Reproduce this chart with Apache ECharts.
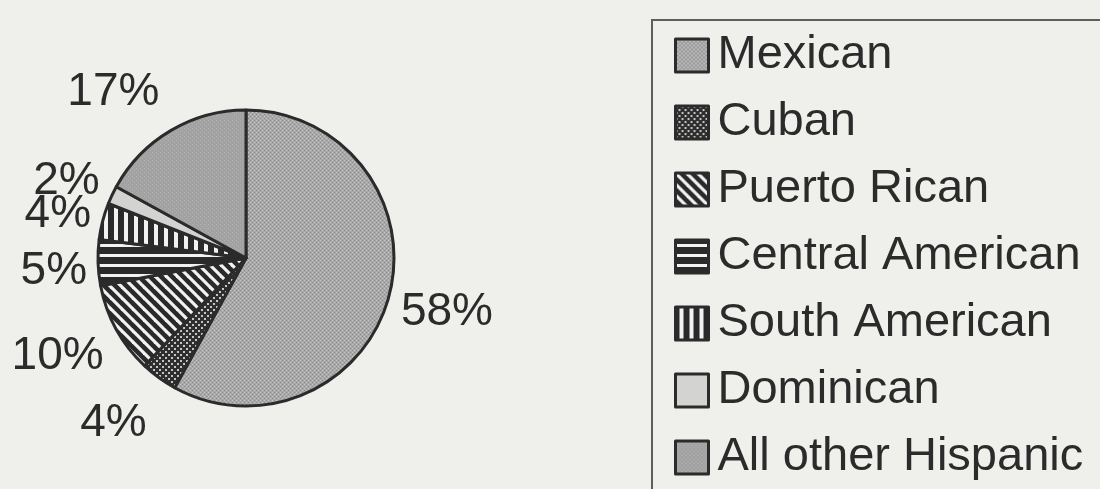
<!DOCTYPE html>
<html>
<head>
<meta charset="utf-8">
<script src="https://cdn.jsdelivr.net/npm/echarts@6/dist/echarts.min.js"></script>
<style>
  html, body { margin: 0; padding: 0; background: #efefec; }
  #chart { width: 1100px; height: 489px; }
</style>
</head>
<body>
<div id="chart"></div>
<script>
// Hispanic population by origin (percent of total)
const categories = ['Mexican', 'Cuban', 'Puerto Rican', 'Central American', 'South American', 'Dominican', 'All other Hispanic'];
const shares = [58, 4, 10, 5, 4, 2, 17];

const INK = '#2b2b2b';
const FONT = '"Liberation Sans", Arial, sans-serif';

// Small repeating tiles used as hatch fills for the slices and legend keys
function tile(w, h, draw) {
  const c = document.createElement('canvas');
  c.width = w; c.height = h;
  draw(c.getContext('2d'), w, h);
  return { image: c, repeat: 'repeat' };
}

const fills = [
  // Mexican: fine grey halftone
  tile(4, 4, (g) => {
    g.fillStyle = '#a8a8a8'; g.fillRect(0, 0, 4, 4);
    g.fillStyle = '#c6c6c6'; g.fillRect(0, 0, 1, 1); g.fillRect(2, 2, 1, 1);
    g.fillStyle = '#8f8f8f'; g.fillRect(2, 0, 1, 1); g.fillRect(0, 2, 1, 1);
  }),
  // Cuban: dark ground with light dots
  tile(6, 6, (g) => {
    g.fillStyle = '#2e2e2e'; g.fillRect(0, 0, 6, 6);
    g.fillStyle = '#c4c4c4'; g.fillRect(0, 0, 2, 2); g.fillRect(3, 3, 2, 2);
  }),
  // Puerto Rican: diagonal stripes
  tile(11, 11, (g, w, h) => {
    g.fillStyle = '#2a2a2a'; g.fillRect(0, 0, w, h);
    g.strokeStyle = '#f2f2f2'; g.lineWidth = 3.2;
    for (let k = -1; k <= 1; k++) {
      g.beginPath(); g.moveTo(-3, -3 + k * w); g.lineTo(w + 3, h + 3 + k * w); g.stroke();
    }
  }),
  // Central American: horizontal stripes
  tile(10, 10, (g) => {
    g.fillStyle = '#2a2a2a'; g.fillRect(0, 0, 10, 10);
    g.fillStyle = '#f2f2f2'; g.fillRect(0, 4, 10, 3);
  }),
  // South American: vertical stripes
  tile(10, 10, (g) => {
    g.fillStyle = '#2a2a2a'; g.fillRect(0, 0, 10, 10);
    g.fillStyle = '#f2f2f2'; g.fillRect(4, 0, 4, 10);
  }),
  // Dominican: light grey
  '#d3d3d1',
  // All other Hispanic: mid grey
  tile(4, 4, (g) => {
    g.fillStyle = '#a2a2a2'; g.fillRect(0, 0, 4, 4);
    g.fillStyle = '#b2b2b2'; g.fillRect(0, 0, 1, 1); g.fillRect(2, 2, 1, 1);
  })
];

const chart = echarts.init(document.getElementById('chart'), null, { renderer: 'canvas' });

// Each percentage label sits outside the rim: its inner side touches the
// slice's mid-angle ray, a little farther out for labels above/below the pie.
function placeLabel(p) {
  let lay;
  try {
    lay = chart.getModel().getSeriesByIndex(0).getData().getItemLayout(p.dataIndex);
  } catch (e) { return {}; }
  if (!lay) return {};
  const mid = (lay.startAngle + lay.endAngle) / 2;
  const dx = Math.cos(mid), dy = Math.sin(mid);
  const d = lay.r + 11 + 15 * dy * dy;
  return {
    x: lay.cx + d * dx + Math.sign(dx) * p.labelRect.width / 2,
    y: lay.cy + d * dy + dy * 26 + 3 + (dy > 0 ? 5 : 0),
    align: 'center',
    verticalAlign: 'middle'
  };
}

chart.setOption({
  backgroundColor: '#efefec',
  animation: false,
  legend: {
    orient: 'vertical',
    left: 652,
    top: 20,
    height: 560,
    padding: [12, 80, 80, 22],
    borderColor: '#5e5e5e',
    borderWidth: 2,
    itemWidth: 33,
    itemHeight: 33,
    itemGap: 20,
    selectedMode: false,
    icon: 'rect',
    itemStyle: { borderColor: INK, borderWidth: 3 },
    textStyle: { color: INK, fontSize: 47, fontFamily: FONT, padding: [4, 0, 0, 4] },
    data: categories
  },
  series: [{
    type: 'pie',
    center: [246, 258],
    radius: 148,
    startAngle: 90,
    clockwise: true,
    avoidLabelOverlap: false,
    silent: true,
    itemStyle: { borderColor: INK, borderWidth: 3 },
    label: {
      show: true,
      position: 'outside',
      formatter: '{c}%',
      color: INK,
      fontSize: 46,
      fontFamily: FONT
    },
    labelLine: { show: false },
    labelLayout: placeLabel,
    data: categories.map((name, i) => ({
      name: name,
      value: shares[i],
      itemStyle: { color: fills[i] }
    }))
  }]
});
</script>
</body>
</html>
